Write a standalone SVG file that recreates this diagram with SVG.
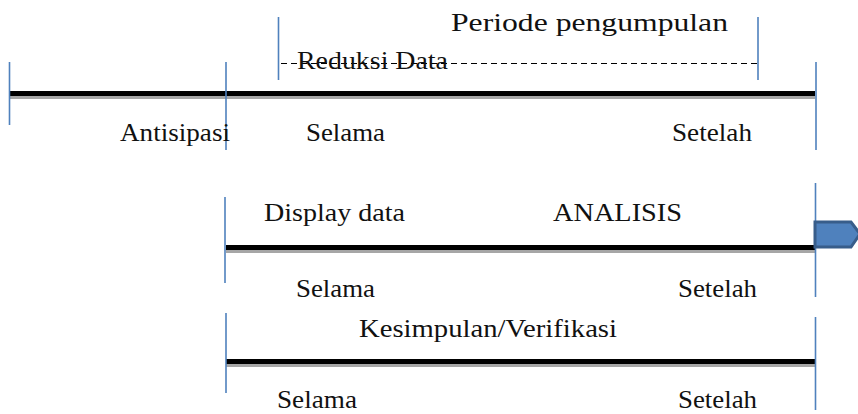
<svg xmlns="http://www.w3.org/2000/svg" width="858" height="414" viewBox="0 0 858 414">
<style>
text{font-family:"Liberation Serif","Times New Roman",serif;font-size:26px;fill:#111}
.bar{stroke:#000;stroke-width:5}
.sh{stroke:#a6a6a6;stroke-width:3}
.tick{stroke:#4f81bd;stroke-width:1.6}
.dash{stroke:#000;stroke-width:1.2;stroke-dasharray:6,4}
</style>
<g id="connectors">
<line class="sh" x1="9" y1="97.5" x2="815" y2="97.5"/>
<line class="bar" x1="9" y1="93.5" x2="815" y2="93.5"/>
<line class="sh" x1="226" y1="251.5" x2="815" y2="251.5"/>
<line class="bar" x1="226" y1="247.5" x2="815" y2="247.5"/>
<line class="sh" x1="226" y1="365.5" x2="815" y2="365.5"/>
<line class="bar" x1="226" y1="361.5" x2="815" y2="361.5"/>
<line class="dash" x1="281" y1="63.5" x2="758" y2="63.5"/>
<line class="tick" x1="9.5" y1="62" x2="9.5" y2="125"/>
<line class="tick" x1="226" y1="62" x2="226" y2="150"/>
<line class="tick" x1="278.5" y1="17" x2="278.5" y2="80"/>
<line class="tick" x1="758" y1="17" x2="758" y2="80"/>
<line class="tick" x1="816" y1="62" x2="816" y2="150"/>
<line class="tick" x1="225" y1="197" x2="225" y2="283"/>
<line class="tick" x1="815.5" y1="183" x2="815.5" y2="297"/>
<line class="tick" x1="226" y1="313" x2="226" y2="393"/>
<line class="tick" x1="815.5" y1="317" x2="815.5" y2="410"/>
</g>
<g id="arrow">
<polygon points="815,222 851,222 860,234 851,247 815,247" fill="#4f81bd" stroke="#385d8a" stroke-width="3" stroke-linejoin="miter"/>
</g>
<g id="row1">
<text x="451" y="31" textLength="277" lengthAdjust="spacingAndGlyphs">Periode pengumpulan</text>
<text x="297" y="69" textLength="151" lengthAdjust="spacingAndGlyphs">Reduksi Data</text>
<text x="120" y="141" textLength="110" lengthAdjust="spacingAndGlyphs">Antisipasi</text>
<text x="306" y="141" textLength="79" lengthAdjust="spacingAndGlyphs">Selama</text>
<text x="672" y="141" textLength="80" lengthAdjust="spacingAndGlyphs">Setelah</text>
</g>
<g id="row2">
<text x="264" y="221" textLength="141" lengthAdjust="spacingAndGlyphs">Display data</text>
<text x="553" y="221" textLength="129" lengthAdjust="spacingAndGlyphs">ANALISIS</text>
<text x="296" y="297" textLength="79" lengthAdjust="spacingAndGlyphs">Selama</text>
<text x="678" y="297" textLength="79" lengthAdjust="spacingAndGlyphs">Setelah</text>
</g>
<g id="row3">
<text x="359" y="337" textLength="258" lengthAdjust="spacingAndGlyphs">Kesimpulan/Verifikasi</text>
<text x="277" y="408" textLength="80" lengthAdjust="spacingAndGlyphs">Selama</text>
<text x="678" y="408" textLength="79" lengthAdjust="spacingAndGlyphs">Setelah</text>
</g>
</svg>
